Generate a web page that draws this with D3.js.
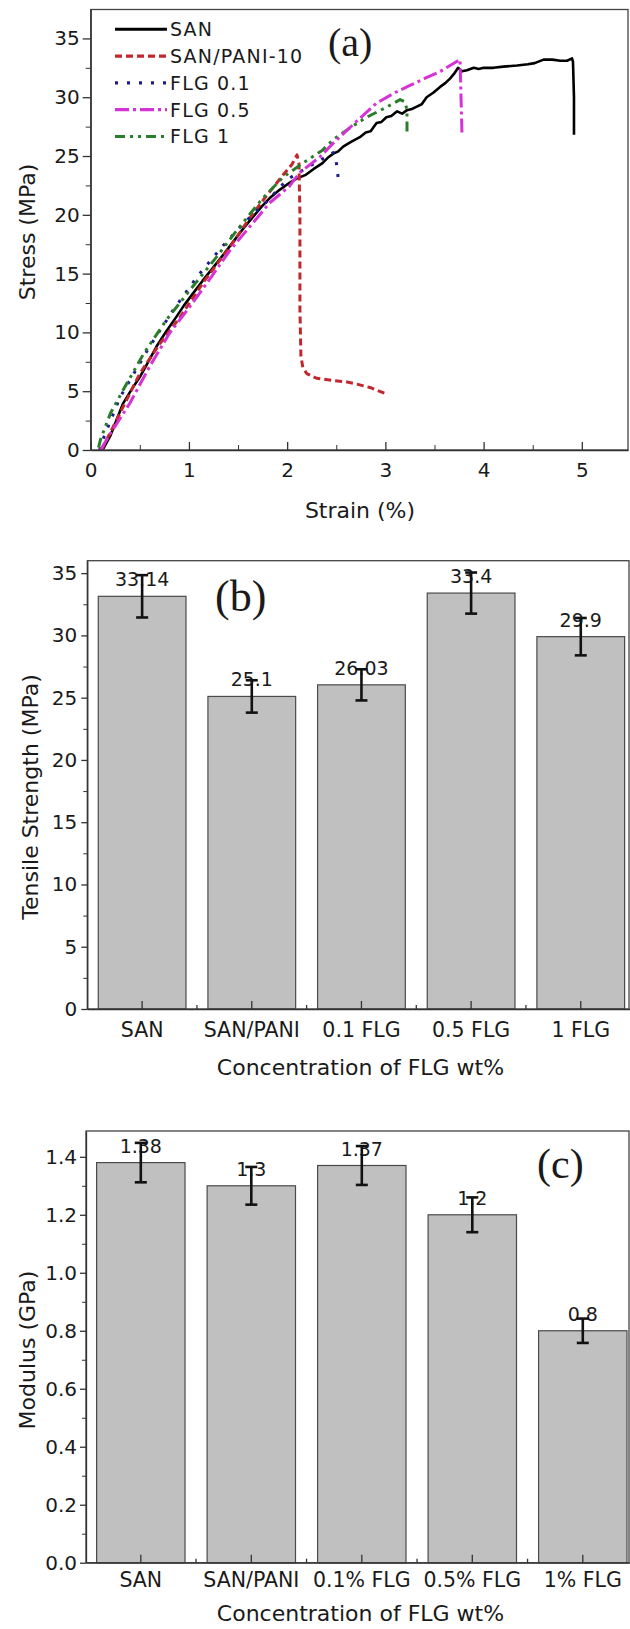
<!DOCTYPE html>
<html>
<head>
<meta charset="utf-8">
<script src="https://cdn.jsdelivr.net/npm/d3@7"></script>
<style>
body{margin:0;background:#fff}
text{font-family:"DejaVu Sans",sans-serif;fill:#1a1a1a}
</style>
</head>
<body>
<div id="chart"></div>
<script>
// (a) stress-strain curves, [strain %, stress MPa]
var sanCurve = [[0.12,0],[0.2,1.2],[0.33,3.97],[0.42,5.2],[0.5,6.2],[0.58,7.4],[0.67,8.8],[0.77,10.1],[0.87,11.3],[0.95,12.3],[1.04,13.3],[1.14,14.4],[1.24,15.45],[1.35,16.6],[1.45,17.7],[1.55,18.8],[1.65,19.8],[1.74,20.7],[1.82,21.4],[1.92,22.1],[2.02,22.7],[2.1,23.1],[2.19,23.4],[2.27,23.9],[2.36,24.4],[2.42,24.9],[2.47,25.2],[2.52,25.4],[2.57,25.8],[2.65,26.2],[2.74,26.6],[2.8,27.0],[2.85,27.1],[2.91,27.8],[2.96,27.9],[3.01,28.3],[3.06,28.4],[3.12,28.8],[3.17,28.6],[3.22,28.9],[3.27,29.0],[3.32,29.2],[3.37,29.4],[3.42,30.0],[3.49,30.4],[3.56,30.9],[3.61,31.2],[3.66,31.6],[3.7,32.0],[3.74,32.5],[3.78,32.2],[3.83,32.3],[3.9,32.5],[3.95,32.4],[4.0,32.5],[4.1,32.5],[4.2,32.6],[4.34,32.7],[4.45,32.8],[4.52,32.9],[4.61,33.2],[4.7,33.2],[4.78,33.1],[4.85,33.1],[4.9,33.3],[4.91,33.0],[4.92,30.0],[4.92,26.8]];
var paniCurve = [[0.11,0],[0.2,1.5],[0.5,6.5],[0.7,9.0],[0.91,11.3],[1.15,14.3],[1.42,17.3],[1.6,19.5],[1.76,21.3],[1.96,23.4],[2.05,24.3],[2.1,25.1],[2.12,24.4],[2.13,20],[2.13,12],[2.14,8.0],[2.16,7.0],[2.2,6.5],[2.3,6.1],[2.47,5.9],[2.6,5.8],[2.71,5.6],[2.85,5.3],[3.0,4.8]];
var flg01Curve = [[0.09,0],[0.12,0.8],[0.3,4.5],[0.6,8.8],[0.84,11.9],[1.08,14.7],[1.35,17.4],[1.57,19.4],[1.79,21.1],[2.0,23.0],[2.2,24.0],[2.35,24.7],[2.47,25.3],[2.5,24.5],[2.52,23.1]];
var flg05Curve = [[0.1,0],[0.2,1.4],[0.4,4.0],[0.6,7.1],[0.8,9.9],[1.01,12.2],[1.21,14.5],[1.42,17.0],[1.62,19.0],[1.82,21.0],[2.02,22.4],[2.13,23.6],[2.33,24.9],[2.47,26.1],[2.7,27.9],[2.91,29.5],[3.1,30.4],[3.25,31.0],[3.4,31.6],[3.56,32.2],[3.68,32.8],[3.76,33.2],[3.77,30.0],[3.78,26.8]];
var flg1Curve = [[0.08,0.2],[0.1,0.9],[0.2,3.1],[0.33,5.1],[0.54,8.2],[0.77,11.05],[1.01,13.6],[1.28,16.4],[1.48,18.6],[1.75,21.4],[1.96,23.2],[2.16,24.4],[2.36,25.5],[2.47,26.4],[2.64,27.4],[2.81,28.3],[3.0,29.1],[3.15,29.8],[3.2,29.6],[3.22,28.9],[3.22,26.8]];
var curveNames = ["SAN","SAN/PANI-10","FLG 0.1","FLG 0.5","FLG 1"];
var curveColors = ["#000000","#c0282d","#1c1c8c","#d633d6","#2a7d2a"];
var curveDashes = [null,"7,4","3,9","14,4,3,4","10,5,3,5,3,5"];
var strainTicks = [0,1,2,3,4,5];
var strainMinor = [0.5,1.5,2.5,3.5,4.5];
var stressTicks = [0,5,10,15,20,25,30,35];
var stressMinor = [2.5,7.5,12.5,17.5,22.5,27.5,32.5];

// (b) tensile strength
var strengthCats = ["SAN","SAN/PANI","0.1 FLG","0.5 FLG","1 FLG"];
var strengthVals = [33.14,25.1,26.03,33.4,29.9];
var strengthErr = [1.7,1.3,1.25,1.65,1.5];
var strengthTicks = [0,5,10,15,20,25,30,35];
var strengthMinor = [2.5,7.5,12.5,17.5,22.5,27.5,32.5];

// (c) modulus
var modulusCats = ["SAN","SAN/PANI","0.1% FLG","0.5% FLG","1% FLG"];
var modulusVals = [1.38,1.3,1.37,1.2,0.8];
var modulusErr = [0.068,0.065,0.067,0.06,0.042];
var modulusTicks = [0,0.2,0.4,0.6,0.8,1.0,1.2,1.4];
var modulusMinor = [0.1,0.3,0.5,0.7,0.9,1.1,1.3];

var svg = d3.select("#chart").append("svg").attr("width",630).attr("height",1629);

function styleAxis(g, size){
	g.attr("font-family","DejaVu Sans").attr("font-size",size).attr("color","#333");
	g.selectAll("line").attr("stroke-width",1.3);
	g.select(".domain").attr("stroke-width",1.3);
}

// ---------- panel (a)
var ax = d3.scaleLinear().domain([0,5.47]).range([90.7,628]);
var ay = d3.scaleLinear().domain([0,37.46]).range([450,9.5]);
var ga = svg.append("g");

var line = d3.line().x(function(d){return ax(d[0])}).y(function(d){return ay(d[1])});
var curves = [sanCurve,paniCurve,flg01Curve,flg05Curve,flg1Curve];
var order = [0,1,2,4,3];   // black first, magenta last
order.forEach(function(k){
	ga.append("path")
		.attr("d",line(curves[k]))
		.attr("fill","none")
		.attr("stroke",curveColors[k])
		.attr("stroke-width",k==0?2.6:3)
		.attr("stroke-dasharray",curveDashes[k])
		.attr("stroke-linejoin","round");
});

ga.append("rect").attr("x",90.7).attr("y",9.5).attr("width",628-90.7).attr("height",450-9.5)
	.attr("fill","none").attr("stroke","#444").attr("stroke-width",1.3);

var yA = ga.append("g").attr("transform","translate(90.7,0)")
	.call(d3.axisLeft(ay).tickValues(stressTicks).tickSize(8).tickSizeOuter(0).tickPadding(3));
styleAxis(yA,20);
ga.append("g").attr("transform","translate(90.7,0)")
	.call(d3.axisLeft(ay).tickValues(stressMinor).tickSize(5).tickFormat(""))
	.call(function(g){g.select(".domain").remove(); g.attr("color","#333")});
var xA = ga.append("g").attr("transform","translate(0,450)")
	.call(d3.axisBottom(ax).tickValues(strainTicks).tickSize(-8).tickSizeOuter(0).tickPadding(13).tickFormat(d3.format("d")));
styleAxis(xA,20);
ga.append("g").attr("transform","translate(0,450)")
	.call(d3.axisBottom(ax).tickValues(strainMinor).tickSize(-5).tickFormat(""))
	.call(function(g){g.select(".domain").remove(); g.attr("color","#333")});

// legend
var legend = ga.append("g");
curveNames.forEach(function(n,i){
	var yy = 29.3 + i*26.8;
	legend.append("line").attr("x1",115).attr("x2",167).attr("y1",yy).attr("y2",yy)
		.attr("stroke",curveColors[i]).attr("stroke-width",i==0?3:3.2)
		.attr("stroke-dasharray",curveDashes[i]);
	legend.append("text").attr("x",170).attr("y",yy).attr("dy","0.36em")
		.attr("font-size",19).attr("letter-spacing",1.2).text(n);
});

ga.append("text").attr("x",328).attr("y",56).attr("font-size",40)
	.style("font-family","'Liberation Serif',serif").text("(a)");
ga.append("text").attr("x",360).attr("y",518).attr("text-anchor","middle").attr("font-size",22).text("Strain (%)");
ga.append("text").attr("transform","translate(35,232) rotate(-90)").attr("text-anchor","middle")
	.attr("font-size",22).text("Stress (MPa)");

// ---------- bar panels
function barPanel(o){
	var x = d3.scaleBand().domain(o.cats).range([o.left,o.bandEnd]).paddingInner(0.2).paddingOuter(o.outer);
	var y = d3.scaleLinear().domain([0,o.ymax]).range([o.bottom,o.top]);
	var g = svg.append("g");
	var data = o.cats.map(function(c,i){return {c:c,v:o.vals[i],e:o.errs[i]}});

	g.selectAll("rect.bar").data(data).join("rect").attr("class","bar")
		.attr("x",function(d){return x(d.c)})
		.attr("y",function(d){return y(d.v)})
		.attr("width",x.bandwidth())
		.attr("height",function(d){return o.bottom-y(d.v)})
		.attr("fill","#c0c0c0").attr("stroke","#4a4a4a").attr("stroke-width",1.2);

	g.selectAll("text.val").data(data).join("text").attr("class","val")
		.attr("x",function(d){return x(d.c)+x.bandwidth()/2})
		.attr("y",function(d){return y(d.v)-10})
		.attr("text-anchor","middle").attr("font-size",19)
		.text(function(d){return String(d.v)});

	var eb = g.selectAll("g.err").data(data).join("g").attr("class","err")
		.attr("transform",function(d){return "translate("+(x(d.c)+x.bandwidth()/2)+",0)"});
	eb.append("line").attr("y1",function(d){return y(d.v+d.e)}).attr("y2",function(d){return y(d.v-d.e)})
		.attr("stroke","#111").attr("stroke-width",2.6);
	eb.append("line").attr("x1",-6).attr("x2",6).attr("y1",function(d){return y(d.v+d.e)}).attr("y2",function(d){return y(d.v+d.e)})
		.attr("stroke","#111").attr("stroke-width",2.6);
	eb.append("line").attr("x1",-6).attr("x2",6).attr("y1",function(d){return y(d.v-d.e)}).attr("y2",function(d){return y(d.v-d.e)})
		.attr("stroke","#111").attr("stroke-width",2.6);

	g.append("rect").attr("x",o.left).attr("y",o.top).attr("width",o.right-o.left).attr("height",o.bottom-o.top)
		.attr("fill","none").attr("stroke","#444").attr("stroke-width",1.3);

	var ya = g.append("g").attr("transform","translate("+o.left+",0)")
		.call(d3.axisLeft(y).tickValues(o.ticks).tickSize(6).tickSizeOuter(0).tickPadding(o.ypad).tickFormat(d3.format(o.fmt)));
	styleAxis(ya,20);
	g.append("g").attr("transform","translate("+o.left+",0)")
		.call(d3.axisLeft(y).tickValues(o.minor).tickSize(4).tickFormat(""))
		.call(function(s){s.select(".domain").remove(); s.attr("color","#333")});

	var xa = g.append("g").attr("transform","translate(0,"+o.bottom+")")
		.call(d3.axisBottom(x).tickSize(-8).tickSizeOuter(0).tickPadding(o.xpad));
	styleAxis(xa,20.5);
	var gaps = o.cats.slice(1).map(function(c){return x(c)-x.step()*0.1});
	xa.selectAll("line.minor").data(gaps).join("line").attr("class","minor")
		.attr("x1",function(d){return d}).attr("x2",function(d){return d})
		.attr("y1",0).attr("y2",-4).attr("stroke","#333").attr("stroke-width",1.3);

	g.append("text").attr("x",o.labelX).attr("y",o.labelY).attr("font-size",o.labelSize)
		.style("font-family","'Liberation Serif',serif").text(o.label);
	g.append("text").attr("x",360.5).attr("y",o.xTitleY).attr("text-anchor","middle").attr("font-size",22)
		.text("Concentration of FLG wt%");
	g.append("text").attr("transform","translate("+o.yTitleX+","+o.yTitleY+") rotate(-90)").attr("text-anchor","middle")
		.attr("font-size",22).text(o.yTitle);
}

barPanel({cats:strengthCats,vals:strengthVals,errs:strengthErr,ticks:strengthTicks,minor:strengthMinor,fmt:"d",
	left:87.3,right:629,bandEnd:635.6,outer:0.1,top:560.7,bottom:1009,ymax:36,ypad:4,xpad:13,
	label:"(b)",labelX:215,labelY:611,labelSize:44,xTitleY:1075,yTitleX:38,yTitleY:797,yTitle:"Tensile Strength (MPa)"});

barPanel({cats:modulusCats,vals:modulusVals,errs:modulusErr,ticks:modulusTicks,minor:modulusMinor,fmt:".1f",
	left:86,right:629,bandEnd:637.6,outer:0.096,top:1131,bottom:1562.7,ymax:1.489,ypad:3,xpad:9.5,
	label:"(c)",labelX:537,labelY:1178,labelSize:42,xTitleY:1621,yTitleX:35,yTitleY:1350,yTitle:"Modulus (GPa)"});
</script>
</body>
</html>
